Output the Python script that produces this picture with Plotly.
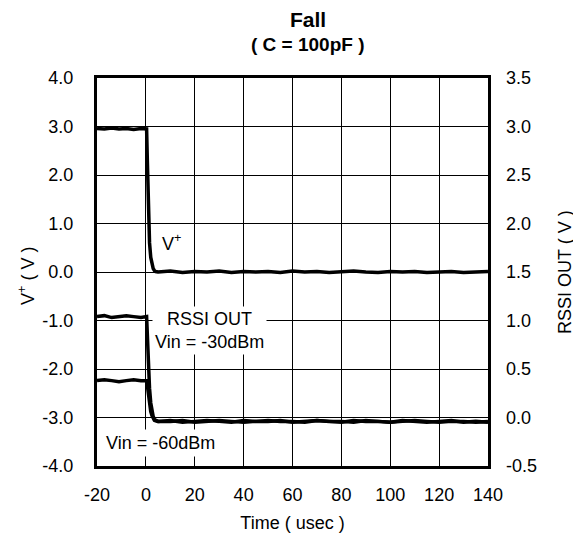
import plotly.graph_objects as go

# time axis (usec), shared by all three traces
time = [-20, -17, -14, -11, -8, -5, -2, 0.3,
        0.6, 0.9, 1.2, 1.5, 2.0, 2.5, 3.0, 3.5, 4.0,
        5, 10, 15, 20, 25, 30, 35, 40, 45, 50, 55, 60, 65, 70,
        75, 80, 85, 90, 95, 100, 105, 110, 115, 120, 125, 130, 135, 140]

# V+ (left axis, V)
v_plus = [2.96, 2.95, 2.97, 2.95, 2.96, 2.94, 2.96, 2.95,
          2.30, 1.60, 1.00, 0.60, 0.30, 0.15, 0.07, 0.03, 0.01,
          0.00, 0.02, -0.01, 0.01, 0.00, 0.02, -0.01, 0.01, 0.00, 0.01, -0.01, 0.02, 0.00, 0.01,
          -0.01, 0.00, 0.02, 0.00, -0.01, 0.01, 0.00, 0.01, -0.01, 0.00, 0.01, -0.01, 0.00, 0.01]

# RSSI OUT (right axis, V)
rssi_30 = [1.04, 1.05, 1.03, 1.04, 1.05, 1.04, 1.03, 1.04,
           0.85, 0.62, 0.44, 0.30, 0.15, 0.06, 0.01, -0.02, -0.03,
           -0.04, -0.03, -0.05, -0.04, -0.03, -0.04, -0.05, -0.03, -0.04, -0.04, -0.03, -0.05, -0.04, -0.03,
           -0.04, -0.05, -0.03, -0.04, -0.04, -0.05, -0.03, -0.04, -0.05, -0.04, -0.03, -0.05, -0.04, -0.05]
rssi_60 = [0.38, 0.39, 0.38, 0.37, 0.38, 0.39, 0.38, 0.38,
           0.33, 0.26, 0.19, 0.13, 0.06, 0.02, -0.01, -0.03, -0.035,
           -0.04, -0.04, -0.03, -0.05, -0.04, -0.03, -0.04, -0.05, -0.04, -0.03, -0.04, -0.04, -0.05, -0.03,
           -0.04, -0.04, -0.05, -0.03, -0.04, -0.05, -0.04, -0.03, -0.04, -0.05, -0.04, -0.04, -0.05, -0.04]

# tick positions and labels (plain hyphen minus, as in the original)
x_ticks = [-20, 0, 20, 40, 60, 80, 100, 120, 140]
x_labels = ["-20", "0", "20", "40", "60", "80", "100", "120", "140"]
y1_ticks = [-4, -3, -2, -1, 0, 1, 2, 3, 4]
y1_labels = ["-4.0", "-3.0", "-2.0", "-1.0", "0.0", "1.0", "2.0", "3.0", "4.0"]
y2_ticks = [-0.5, 0, 0.5, 1, 1.5, 2, 2.5, 3, 3.5]
y2_labels = ["-0.5", "0.0", "0.5", "1.0", "1.5", "2.0", "2.5", "3.0", "3.5"]

font = "Liberation Sans, Arial, sans-serif"
line = dict(color="black", width=3.5)

fig = go.Figure()
fig.add_trace(go.Scatter(x=time, y=v_plus, mode="lines", line=line, yaxis="y"))
fig.add_trace(go.Scatter(x=time, y=rssi_30, mode="lines", line=line, yaxis="y2"))
fig.add_trace(go.Scatter(x=time, y=rssi_60, mode="lines", line=line, yaxis="y2"))

# page body adds an 8px offset, so the figure is 8px smaller each way
fig.update_layout(
    width=573, height=525,
    margin=dict(l=89, r=93, t=70, b=67),
    paper_bgcolor="white", plot_bgcolor="white",
    showlegend=False,
    font=dict(family=font, size=18, color="black"),
    xaxis=dict(
        range=[-20, 140], tickvals=x_ticks, ticktext=x_labels,
        showgrid=True, gridcolor="black", gridwidth=1,
        zeroline=False, showline=True, linecolor="black", linewidth=3, mirror=True,
        ticks="", ticklabelstandoff=10, automargin=False,
        title=dict(text="Time ( usec )", standoff=14, font=dict(size=18)),
    ),
    yaxis=dict(
        range=[-4, 4], tickvals=y1_ticks, ticktext=y1_labels,
        showgrid=True, gridcolor="black", gridwidth=1,
        zeroline=False, showline=True, linecolor="black", linewidth=3, mirror=True,
        ticks="", ticklabelstandoff=17, automargin=False,
    ),
    yaxis2=dict(
        range=[-0.5, 3.5], tickvals=y2_ticks, ticktext=y2_labels,
        overlaying="y", side="right",
        showgrid=False, zeroline=False, ticks="", ticklabelstandoff=17, automargin=False,
    ),
    annotations=[
        dict(text="<b>Fall</b>", xref="paper", yref="paper", x=0.54, y=1.15,
             xanchor="center", yanchor="middle", showarrow=False, font=dict(size=21)),
        dict(text="<b>( C = 100pF )</b>", xref="paper", yref="paper", x=0.54, y=1.087,
             xanchor="center", yanchor="middle", showarrow=False, font=dict(size=19)),
        dict(text="V<sup>+</sup> ( V )", xref="paper", yref="paper", x=-0.179, y=0.49,
             xanchor="center", yanchor="middle", textangle=-90, showarrow=False),
        dict(text="RSSI OUT ( V )", xref="paper", yref="paper", x=1.197, y=0.5,
             xanchor="center", yanchor="middle", textangle=-90, showarrow=False),
        dict(text="V<sup>+</sup>", x=10.6, y=0.6, xref="x", yref="y",
             xanchor="center", yanchor="middle", showarrow=False),
        dict(text="RSSI OUT<br>Vin = -30dBm", x=26, y=-1.2, xref="x", yref="y",
             xanchor="center", yanchor="middle", showarrow=False,
             bgcolor="white", borderpad=2),
        dict(text="Vin = -60dBm", x=6, y=-3.53, xref="x", yref="y",
             xanchor="center", yanchor="middle", showarrow=False,
             bgcolor="white", borderpad=3),
    ],
)

fig.write_html("out.html")
